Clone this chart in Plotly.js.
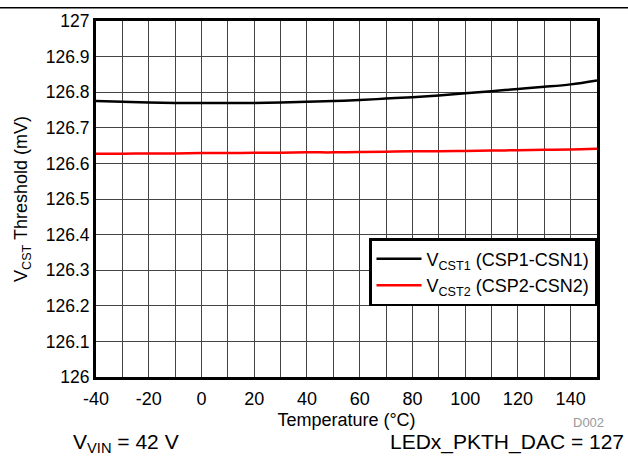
<!DOCTYPE html>
<html>
<head>
<meta charset="utf-8">
<script src="https://cdn.plot.ly/plotly-3.0.1.min.js"></script>
<style>html,body{margin:0;padding:0;background:#fff;}#chart{width:628px;height:458px;}</style>
</head>
<body>
<div id="chart"></div>
<script>
const temperature = [-40, -30, -20, -10, 0, 10, 20, 30, 40, 50, 60, 70, 80, 90, 100, 110, 120, 130, 140, 150];
const vcst1 = [126.775, 126.773, 126.771, 126.770, 126.770, 126.770, 126.770, 126.771, 126.773, 126.775, 126.778, 126.782, 126.786, 126.791, 126.797, 126.803, 126.809, 126.815, 126.822, 126.833];
const vcst2 = [126.627, 126.627, 126.628, 126.628, 126.629, 126.629, 126.630, 126.630, 126.631, 126.631, 126.632, 126.633, 126.634, 126.634, 126.635, 126.636, 126.637, 126.638, 126.639, 126.641];
const xTicks = [-40, -20, 0, 20, 40, 60, 80, 100, 120, 140];
const yTicks = [126, 126.1, 126.2, 126.3, 126.4, 126.5, 126.6, 126.7, 126.8, 126.9, 127];
const seriesNames = ['V<sub>CST1</sub> (CSP1-CSN1)', 'V<sub>CST2</sub> (CSP2-CSN2)'];

const FONT = 'Liberation Sans, Arial, sans-serif';
const traces = [
  {x: temperature, y: vcst1, name: seriesNames[0], mode: 'lines', line: {color: '#000000', width: 2.5, shape: 'spline'}},
  {x: temperature, y: vcst2, name: seriesNames[1], mode: 'lines', line: {color: '#ff0000', width: 2.5, shape: 'spline'}}
];
const layout = {
  width: 628, height: 458,
  margin: {l: 96, r: 31, t: 21, b: 81},
  paper_bgcolor: '#ffffff', plot_bgcolor: '#ffffff',
  font: {family: FONT, size: 18, color: '#000'},
  showlegend: true,
  legend: {x: 1, xanchor: 'right', y: 0.39, yanchor: 'top', bgcolor: '#ffffff', bordercolor: '#000', borderwidth: 2.5, font: {family: FONT, size: 18}, tracegroupgap: 0, itemwidth: 45},
  xaxis: {
    range: [-40, 150], tickvals: xTicks, ticktext: xTicks.map(String),
    showgrid: true, gridcolor: '#444', gridwidth: 1,
    minor: {dtick: 10, tick0: -40, showgrid: true, gridcolor: '#444', gridwidth: 1},
    showline: true, linecolor: '#000', linewidth: 3, mirror: true, ticks: '', zeroline: false,
    tickfont: {family: FONT, size: 18}, ticklabelstandoff: 3,
    title: {text: 'Temperature (°C)', font: {family: FONT, size: 18}, standoff: 6}
  },
  yaxis: {
    range: [126, 127], tickvals: yTicks, ticktext: yTicks.map(v => String(v)),
    showgrid: true, gridcolor: '#444', gridwidth: 1,
    showline: true, linecolor: '#000', linewidth: 3, mirror: true, ticks: '', zeroline: false,
    tickfont: {family: FONT, size: 17.5},
    title: {text: 'V<sub>CST</sub> Threshold (mV)', font: {family: FONT, size: 18}, standoff: 14}
  },
  shapes: [
    {type: 'line', xref: 'paper', yref: 'paper', x0: -0.2, x1: 1.1, y0: 1.037, y1: 1.037, line: {color: '#000', width: 1.5}}
  ],
  annotations: [
    {xref: 'paper', yref: 'paper', x: -0.05, y: -0.186, xanchor: 'left', yanchor: 'middle', showarrow: false, text: 'V<sub>VIN</sub> = 42 V', font: {family: FONT, size: 21}},
    {xref: 'paper', yref: 'paper', x: 1.058, y: -0.183, xanchor: 'right', yanchor: 'middle', showarrow: false, text: 'LEDx_PKTH_DAC = 127', font: {family: FONT, size: 21}},
    {xref: 'paper', yref: 'paper', x: 1.018, y: -0.127, xanchor: 'right', yanchor: 'middle', showarrow: false, text: 'D002', font: {family: FONT, size: 13, color: '#999'}}
  ]
};
Plotly.newPlot('chart', traces, layout, {displayModeBar: false, staticPlot: true});
</script>
</body>
</html>
